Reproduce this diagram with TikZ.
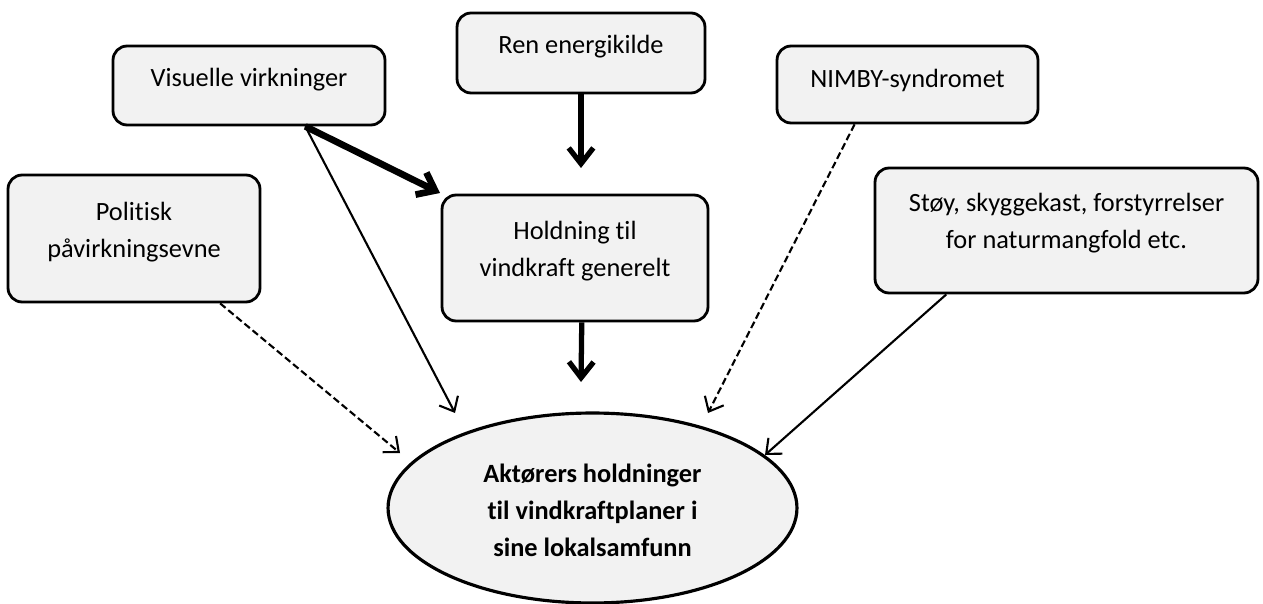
\documentclass[tikz,border=0pt]{standalone}
\usepackage{fontspec}
\setmainfont{Carlito}[Ligatures=NoCommon]
\usetikzlibrary{arrows.meta,shapes.geometric}
\definecolor{boxgray}{HTML}{F2F2F2}
\tikzset{
  box/.style={draw, line width=1.6pt, rounded corners=8pt, fill=boxgray, inner sep=0pt},
  oval/.style={draw, ellipse, line width=1.8pt, fill=boxgray, inner sep=0pt},
  txt/.style={align=center, font=\fontsize{15}{21}\selectfont},
  linkthin/.style={line width=1.2pt, -{Straight Barb[length=7pt,width=12pt]}},
  linkdash/.style={line width=1.2pt, dash pattern=on 4pt off 2pt, -{Straight Barb[length=7pt,width=12pt]}},
  linkbold/.style={line width=3pt, -{Straight Barb[length=9pt,width=14pt]}},
}
\begin{document}
\begin{tikzpicture}[x=0.02cm, y=-0.02cm]
      \useasboundingbox (0,0) rectangle (1263,604);
      % boxes
      \node[box, minimum width=5.44cm, minimum height=1.58cm] (vis) at (249,85.5) {};
      \node[box, minimum width=4.96cm, minimum height=1.6cm] (ren) at (581,53) {};
      \node[box, minimum width=5.22cm, minimum height=1.54cm] (nim) at (907.5,84.5) {};
      \node[box, minimum width=5.04cm, minimum height=2.54cm] (pol) at (134,238.5) {};
      \node[box, minimum width=5.32cm, minimum height=2.52cm] (hol) at (575,258) {};
      \node[box, minimum width=7.66cm, minimum height=2.5cm] (sty) at (1066.5,230.5) {};
      \node[oval, minimum width=8.18cm, minimum height=3.8cm] (akt) at (592.5,508) {};
      % texts
      \node[txt] (visT) at (249,80) {Visuelle virkninger};
      \node[txt] (renT) at (581,47) {Ren energikilde};
      \node[txt] (nimT) at (907.5,80) {NIMBY-syndromet};
      \node[txt] (polT) at (134,232.5) {Politisk\\påvirkningsevne};
      \node[txt] (holT) at (575,251) {Holdning til\\vindkraft generelt};
      \node[txt] (styT) at (1066.5,223) {Støy, skyggekast, forstyrrelser\\for naturmangfold etc.};
      \node[txt, font=\fontsize{15}{21}\selectfont\bfseries] (aktT) at (592.5,510) {Aktørers holdninger\\til vindkraftplaner i\\sine lokalsamfunn};
      % arrow tips
      \coordinate (tipR) at (581,168);
      \coordinate (tipH) at (440,193);
      \coordinate (tipV) at (455,413);
      \coordinate (tipE) at (581,382);
      \coordinate (tipP) at (400,453);
      \coordinate (tipN) at (708,413);
      \coordinate (tipS) at (765,455);
      \begin{scope}
        \draw[linkbold] (ren.south) to (tipR);
        \draw[linkbold, line width=3.8pt] (vis.-36.7) to (tipH);
        \draw[linkthin] (vis.-36.7) to (tipV);
        \draw[linkbold] (hol.-84.6) to (tipE);
        \draw[linkdash] (pol.-37.1) to (tipP);
        \draw[linkdash] (nim.-143.7) to (tipN);
        \draw[linkthin] (sty.-152.2) to (tipS);
      \end{scope}
    \end{tikzpicture}
\end{document}
